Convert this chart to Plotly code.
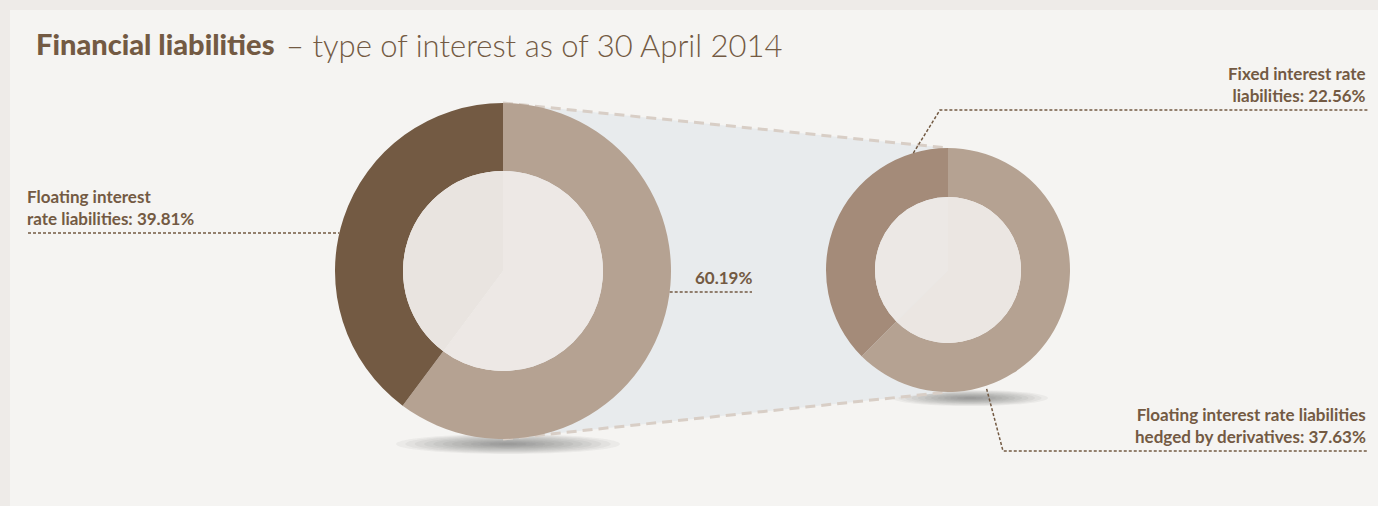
import math
import plotly.graph_objects as go

# ---------------- data ----------------
main_labels = ["Floating interest rate liabilities", "Fixed + hedged"]
main_values = [39.81, 60.19]
main_colors = ["#735a43", "#b5a292"]
main_hole_colors = ["#e9e4e0", "#ede8e5"]

sub_labels = ["Fixed interest rate liabilities", "Floating interest rate liabilities hedged by derivatives"]
sub_values = [22.56, 37.63]
sub_colors = ["#a48b79", "#b5a292"]
sub_hole_colors = ["#ece8e5", "#ebe6e2"]

title_bold = "Financial liabilities"
title_light = "– type of interest as of 30 April 2014"
label_float = "Floating interest<br>rate liabilities: 39.81%"
label_total = "60.19%"
label_fixed = "Fixed interest rate<br>liabilities: 22.56%"
label_hedged = "Floating interest rate liabilities<br>hedged by derivatives: 37.63%"

# ---------------- layout geometry (pixels) ----------------
W, H = 1378, 506
L_CX, L_CY, L_R, L_RH = 503, 271, 168, 100
R_CX, R_CY, R_R, R_RH = 948, 270, 122, 73

TEXT = "#735a43"
BG_OUT = "#eeebe8"
BG_IN = "#f5f4f2"


def X(px):
    return px / W


def Y(py):
    return 1 - py / H


def dom(cx, cy, r):
    return dict(x=[X(cx - r), X(cx + r)], y=[Y(cy + r), Y(cy - r)])


def pie(labels, values, colors, cx, cy, r, hole=0.0):
    # plotly's counterclockwise mode places the first slice clockwise of 12 o'clock,
    # so feed the slices in reverse to put the first series slice left of 12 o'clock
    return go.Pie(labels=labels[::-1], values=values[::-1], hole=hole, sort=False,
                  direction="counterclockwise", rotation=0,
                  marker=dict(colors=colors[::-1], line=dict(width=0)),
                  textinfo="none", hoverinfo="skip", domain=dom(cx, cy, r), showlegend=False)


fig = go.Figure()
fig.add_trace(pie(main_labels, main_values, main_colors, L_CX, L_CY, L_R, L_RH / L_R))
fig.add_trace(pie(main_labels, main_values, main_hole_colors, L_CX, L_CY, L_RH))
fig.add_trace(pie(sub_labels, sub_values, sub_colors, R_CX, R_CY, R_R, R_RH / R_R))
fig.add_trace(pie(sub_labels, sub_values, sub_hole_colors, R_CX, R_CY, R_RH))

shapes = []


def P(**kw):
    kw.setdefault("xref", "paper")
    kw.setdefault("yref", "paper")
    shapes.append(kw)


def path(pts, close=False):
    s = "M" + " L".join(f"{X(a):.5f},{Y(b):.5f}" for a, b in pts)
    return s + (" Z" if close else "")


# panel background
P(type="rect", x0=X(10), x1=X(W), y0=Y(H), y1=Y(10), fillcolor=BG_IN, line=dict(width=0), layer="below")


# shadows (stacked soft ellipses)
def shadow(cx, cy, rx, ry, n=12, op=0.05):
    for i in range(n):
        f = 1 - i / n
        P(type="circle", x0=X(cx - rx * f), x1=X(cx + rx * f), y0=Y(cy + ry * f), y1=Y(cy - ry * f),
          fillcolor="#404040", opacity=op, line=dict(width=0), layer="below")


shadow(L_CX + 5, L_CY + L_R + 5, 112, 10)
shadow(R_CX + 22, R_CY + R_R + 6, 78, 8)

# connector polygon
top_l = (L_CX, L_CY - L_R)
top_r = (R_CX, R_CY - R_R)
bot_l = (L_CX, L_CY + L_R)
bot_r = (R_CX, R_CY + R_R)
P(type="path", path=path([top_l, top_r, bot_r, bot_l], close=True),
  fillcolor="#e8ebed", line=dict(width=0), layer="below")
for a, b in [(top_l, top_r), (bot_l, bot_r)]:
    P(type="line", x0=X(a[0]), y0=Y(a[1]), x1=X(b[0]), y1=Y(b[1]),
      line=dict(color="#d8cec6", width=3, dash="10px,6px"), layer="below")

lead = dict(color=TEXT, width=1.5, dash="3px,2px")

# left label leader
y1 = 233
P(type="line", x0=X(28), x1=X(L_CX - math.sqrt(L_R ** 2 - (y1 - L_CY) ** 2)), y0=Y(y1), y1=Y(y1), line=lead)
# 60.19 leader
y2 = 292
P(type="line", x0=X(L_CX + math.sqrt(L_R ** 2 - (y2 - L_CY) ** 2)), x1=X(752), y0=Y(y2), y1=Y(y2), line=lead)
# fixed leader
a = math.radians(106.5)
p1 = (R_CX + R_R * math.cos(a), R_CY - R_R * math.sin(a))
P(type="path", path=path([p1, (940, 110), (1368, 110)]), line=lead)
# hedged leader
a = math.radians(-72)
p2 = (R_CX + (R_R + 3) * math.cos(a), R_CY - (R_R + 3) * math.sin(a))
P(type="path", path=path([p2, (1003, 451), (1368, 451)]), line=lead)

lab_font = dict(family="Lato", size=17, color=TEXT, weight=700)


def A(x, y, text, **kw):
    d = dict(x=X(x), y=Y(y), xref="paper", yref="paper", text=text, showarrow=False)
    d.update(kw)
    return d


ann = [
    A(34, 44, title_bold, xanchor="left", yanchor="middle",
      font=dict(family="Lato", size=29, color=TEXT, weight=900)),
    A(284, 45, title_light, xanchor="left", yanchor="middle",
      font=dict(family="Lato", size=31, color=TEXT, weight=300)),
    A(25, 231, label_float, xanchor="left", yanchor="bottom", align="left", font=lab_font),
    A(754, 290, label_total, xanchor="right", yanchor="bottom", font=lab_font),
    A(1368, 108, label_fixed, xanchor="right", yanchor="bottom", align="right", font=lab_font),
    A(1368, 449, label_hedged, xanchor="right", yanchor="bottom", align="right", font=lab_font),
]

fig.update_layout(
    width=W, height=H, margin=dict(l=0, r=0, t=0, b=0),
    paper_bgcolor=BG_OUT, plot_bgcolor="rgba(0,0,0,0)",
    shapes=shapes, annotations=ann, showlegend=False,
)

fig.write_html("out.html", config={"displayModeBar": False},
               post_script="document.body.style.margin='0';")
